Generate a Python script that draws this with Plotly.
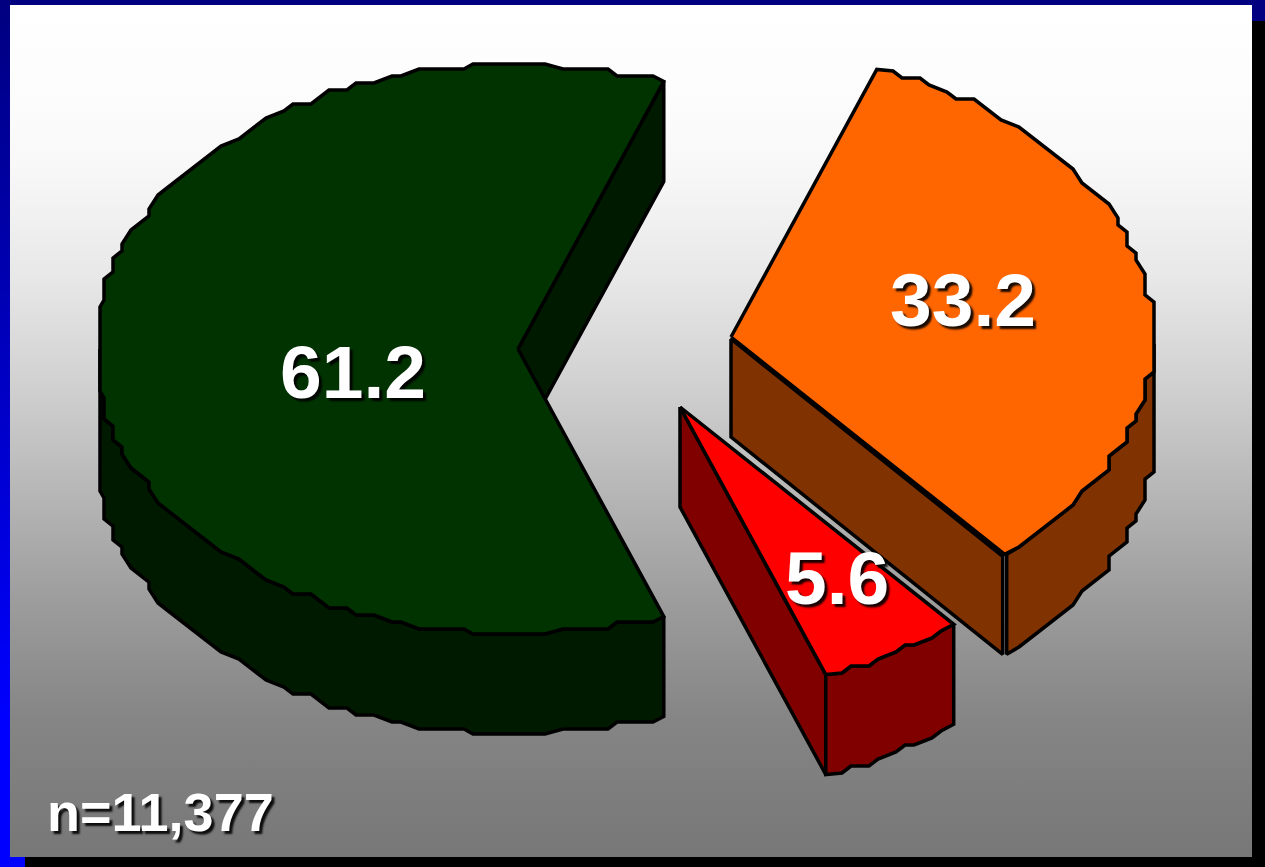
import math
import plotly.graph_objects as go

# Percentage share of each slice, clockwise from the lower edge of the large one
labels = ["61.2", "33.2", "5.6"]
shares = [61.2, 33.2, 5.6]
top_colors = ["#003300", "#ff6600", "#ff0000"]
wall_colors = ["#001a00", "#803300", "#800000"]
sample_size = "n=11,377"

# Page geometry in pixels
WIDTH, HEIGHT = 1265, 867
PANEL = (10, 5, 1252, 857)

# Eased grey ramp of the panel: (page y, grey level)
ramp_y = [5, 100, 166, 276, 387, 498, 608, 719, 857]
ramp_grey = [255, 252, 248, 232, 208, 181, 155, 133, 119]

# Projected pie: apex of each exploded slice, ellipse radii and extrusion depth
apexes = [(518, 349), (731, 337), (680, 407)]
label_centres = [(353, 372), (963, 300), (837, 578)]
RX, RY, DEPTH = 423, 285, 100
START_DEG = 180 + shares[0] * 1.8
STEP_DEG = 2.0
SNAP_X, SNAP_Y = 9, 7    # coarse outline lattice gives the stepped rim
EDGE = dict(color="black", width=3.5)


def rim_point(apex, deg):
    rad = math.radians(deg)
    return apex[0] + RX * math.cos(rad), apex[1] - RY * math.sin(rad)


def rim(apex, a0, a1):
    """Rim from a0 to a1 (decreasing degrees), stepped, with exact end corners."""
    count = max(2, int(abs(a1 - a0) / STEP_DEG))
    pts = [rim_point(apex, a0)]
    for i in range(1, count):
        x, y = rim_point(apex, a0 + (a1 - a0) * i / count)
        x = apex[0] + round((x - apex[0]) / SNAP_X) * SNAP_X
        y = apex[1] + round((y - apex[1]) / SNAP_Y) * SNAP_Y
        # Keep the lattice from pushing the rim past the ellipse's extents
        x = min(max(x, apex[0] - RX + 5), apex[0] + RX + 1)
        y = min(max(y, apex[1] - RY), apex[1] + RY)
        if (x, y) != pts[-1]:
            pts.append((x, y))
    pts.append(rim_point(apex, a1))
    return pts


def polygon(fig, pts, color):
    fig.add_trace(go.Scatter(
        x=[p[0] for p in pts] + [pts[0][0]],
        y=[p[1] for p in pts] + [pts[0][1]],
        mode="lines", fill="toself", fillcolor=color,
        line=EDGE, hoverinfo="skip", showlegend=False,
    ))


def gradient_rect(fig, box, y_start, y_stop, colorscale):
    a, b, c, d = box
    fig.add_trace(go.Scatter(
        x=[a, c, c, a, a], y=[b, b, d, d, b],
        mode="lines", line=dict(width=0), fill="toself",
        fillgradient=dict(type="vertical", start=y_start, stop=y_stop,
                          colorscale=colorscale),
        hoverinfo="skip", showlegend=False,
    ))


def extrude(pts):
    return pts + [(x, y + DEPTH) for x, y in reversed(pts)]


fig = go.Figure()

# Panel and the navy-to-blue bar on its left
span = ramp_y[-1] - ramp_y[0]
panel_scale = [[(y - ramp_y[0]) / span, f"rgb({g},{g},{g})"]
               for y, g in zip(ramp_y, ramp_grey)]
gradient_rect(fig, PANEL, PANEL[1], PANEL[3], panel_scale)
gradient_rect(fig, (0, 0, PANEL[0], PANEL[3]), 0, 720,
              [[0, "#000080"], [1, "#0000ff"]])

angle = START_DEG
for i, share in enumerate(shares):
    a0 = angle
    a1 = angle - share * 3.6
    angle = a1
    apex = apexes[i]
    outline = rim(apex, a0, a1)
    if i == 0:
        # Inner cut face seen through the gap, then the lower rim wall
        polygon(fig, extrude([apex, outline[-1]]), wall_colors[i])
        low = [p for p in outline if p[1] >= apex[1]]
        polygon(fig, extrude(low), wall_colors[i])
    elif i == 1:
        # Cut face and rim wall stay a hair apart at their shared corner
        end = outline[-1]
        cut = [(apex[0], apex[1] + 2), (end[0] - 2, end[1] + 2)]
        polygon(fig, cut + [(end[0] - 2, end[1] + DEPTH), (apex[0], apex[1] + DEPTH)],
                wall_colors[i])
        low = [p for p in outline if p[1] >= apex[1]]
        low[-1] = (low[-1][0] + 2, low[-1][1])
        polygon(fig, extrude(low), wall_colors[i])
    else:
        polygon(fig, extrude([apex, outline[-1]]), wall_colors[i])
        polygon(fig, extrude(outline), wall_colors[i])
    polygon(fig, [apex] + outline, top_colors[i])

# Value labels and sample size
SHADOW = "3px 3px 2px rgba(0,0,0,0.9)"
annotations = [
    dict(x=cx, y=cy, text=f"<b>{t}</b>", showarrow=False, xref="x", yref="y",
         font=dict(family="Liberation Sans", size=75, color="white", shadow=SHADOW))
    for t, (cx, cy) in zip(labels, label_centres)
]
annotations.append(dict(
    x=45, y=812, text=f"<b>{sample_size}</b>", showarrow=False, xref="x", yref="y",
    xanchor="left",
    font=dict(family="Liberation Sans", size=54, color="white", shadow=SHADOW),
))

# Slide frame around the panel
frame = [
    (0, 0, WIDTH, PANEL[1], "#000080"),
    (PANEL[2], PANEL[1], WIDTH, 21, "#000080"),
    (PANEL[2], 21, WIDTH, HEIGHT, "#000000"),
    (25, PANEL[3], WIDTH, HEIGHT, "#000000"),
    (0, PANEL[3], 25, HEIGHT, "#0000ff"),
]
shapes = [
    dict(type="rect", xref="x", yref="y", x0=a, y0=b, x1=c, y1=d,
         fillcolor=col, line_width=0, layer="below")
    for a, b, c, d, col in frame
]

fig.update_layout(
    width=WIDTH, height=HEIGHT, margin=dict(l=0, r=0, t=0, b=0),
    paper_bgcolor="black", plot_bgcolor="black",
    xaxis=dict(range=[0, WIDTH], visible=False, fixedrange=True),
    yaxis=dict(range=[HEIGHT, 0], visible=False, fixedrange=True),
    annotations=annotations, shapes=shapes,
)
fig.write_html("out.html", config=dict(displayModeBar=False))
